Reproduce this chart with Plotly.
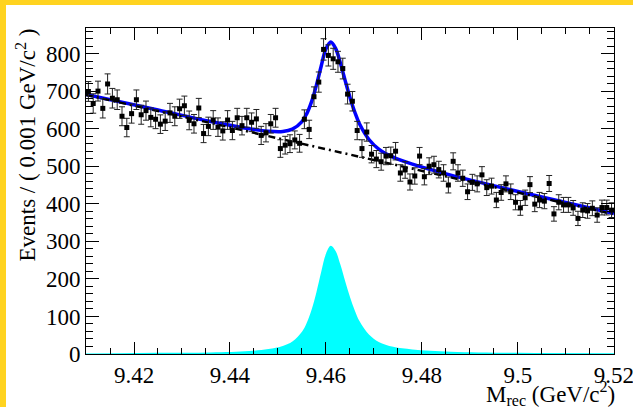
import numpy as np
import plotly.graph_objects as go

# ---- data ----
bin_lo = 9.41
bin_w = 0.001
counts = [699, 667, 700, 654, 719, 681, 677, 633, 603, 640,
          677, 637, 648, 630, 625, 612, 620, 642, 633, 653,
          661, 622, 613, 655, 587, 606, 623, 604, 594, 623,
          595, 629, 608, 629, 617, 626, 582, 589, 613, 629,
          547, 556, 560, 570, 561, 625, 598, 685, 724, 811,
          795, 786, 778, 760, 692, 673, 595, 547, 591, 532,
          519, 512, 527, 528, 540, 482, 490, 458, 474, 527,
          472, 500, 504, 491, 482, 450, 513, 482, 468, 432,
          457, 453, 477, 443, 447, 410, 430, 453, 432, 404,
          389, 416, 451, 399, 410, 407, 454, 373, 404, 397,
          397, 389, 361, 383, 381, 388, 370, 390, 390, 383]

# background (straight line) end points
bg_x = [9.41, 9.52]
bg_y = [690, 372]

# signal component, read along the cyan shape
sig_x = [9.41, 9.425, 9.436, 9.444, 9.448, 9.451, 9.453, 9.455, 9.456, 9.457,
         9.458, 9.459, 9.460, 9.461, 9.462, 9.463, 9.464, 9.465, 9.466, 9.467,
         9.469, 9.471, 9.474, 9.478, 9.486, 9.50, 9.52]
sig_y = [1, 3, 4, 8, 13, 21, 33, 59, 83, 118,
         164, 218, 267, 288, 274, 238, 194, 152, 116, 87,
         51, 32, 19, 12, 6, 3, 2]

x_tickvals = [9.42, 9.44, 9.46, 9.48, 9.50, 9.52]
x_ticktext = ["9.42", "9.44", "9.46", "9.48", "9.5", "9.52"]
y_tickvals = [0, 100, 200, 300, 400, 500, 600, 700, 800]
y_ticktext = ["0", "100", "200", "300", "400", "500", "600", "700", "800"]

# ---- derived ----
bin_x = [bin_lo + bin_w * (i + 0.5) for i in range(len(counts))]
errs = [np.sqrt(c) for c in counts]
total_y = list(np.interp(sig_x, bg_x, bg_y) + np.array(sig_y))

FONT = "Liberation Serif"

fig = go.Figure()
fig.add_trace(go.Scatter(x=sig_x, y=sig_y, mode="lines", line=dict(width=0, color="#00FFFF", shape="spline"),
                         fill="tozeroy", fillcolor="#00FFFF", hoverinfo="skip", showlegend=False))
fig.add_trace(go.Scatter(x=sig_x, y=total_y, mode="lines",
                         line=dict(color="#0000FF", width=3.5, shape="spline"), showlegend=False))
fig.add_trace(go.Scatter(x=bg_x, y=bg_y, mode="lines",
                         line=dict(color="black", width=2.5, dash="7px,4px,2px,4px"), showlegend=False))
fig.add_trace(go.Scatter(x=bin_x, y=counts, mode="markers",
                         marker=dict(symbol="square", size=5, color="black"),
                         error_y=dict(type="data", array=errs, visible=True, color="#222222",
                                      thickness=1, width=3),
                         showlegend=False))

ML, MR, MT, MB = 86, 19, 28, 53
W, H = 633, 407
pw, ph = W - ML - MR, H - MT - MB

def px_x(p):
    return (p - ML) / pw

def px_y(p):
    return (H - MB - p) / ph

axis_common = dict(showline=True, linecolor="black", linewidth=1, mirror="allticks",
                   ticks="inside", tickcolor="black", tickwidth=1, showgrid=False, zeroline=False,
                   tickfont=dict(family=FONT, size=23, color="black"))

fig.update_xaxes(range=[9.41, 9.52001], tickvals=x_tickvals, ticktext=x_ticktext, ticklen=12,
                 ticklabeloverflow="allow",
                 minor=dict(dtick=0.005, tick0=9.41, ticklen=6, ticks="inside", tickcolor="black"),
                 **axis_common)
fig.update_yaxes(range=[0, 868], tickvals=y_tickvals, ticktext=y_ticktext, ticklen=13,
                 minor=dict(dtick=20, tick0=0, ticklen=7, ticks="inside", tickcolor="black"),
                 **axis_common)

fig.update_layout(
    width=W, height=H,
    margin=dict(l=ML, r=MR, t=MT, b=MB, pad=0, autoexpand=False),
    paper_bgcolor="white", plot_bgcolor="white",
    font=dict(family=FONT, size=23, color="black"),
    annotations=[
        dict(text="Events / ( 0.001 GeV/c<sup>2</sup> )", textangle=-90, showarrow=False,
             xref="paper", yref="paper", x=px_x(26), y=px_y(27), xanchor="center", yanchor="top",
             font=dict(family=FONT, size=23, color="black")),
        dict(text="M<sub>rec</sub> (GeV/c<sup>2</sup>)", showarrow=False,
             xref="paper", yref="paper", x=px_x(617), y=px_y(393), xanchor="right", yanchor="middle",
             font=dict(family=FONT, size=23, color="black")),
    ],
    shapes=[
        dict(type="rect", xref="paper", yref="paper", x0=px_x(-2), x1=px_x(6), y0=px_y(410), y1=px_y(-2),
             fillcolor="#FFD320", line=dict(width=0), layer="above"),
        dict(type="rect", xref="paper", yref="paper", x0=px_x(-2), x1=px_x(636), y0=px_y(5), y1=px_y(-2),
             fillcolor="#FFD320", line=dict(width=0), layer="above"),
    ],
)

fig.write_html("out.html", post_script="document.body.style.margin='0px';",
               config={"displayModeBar": False})
